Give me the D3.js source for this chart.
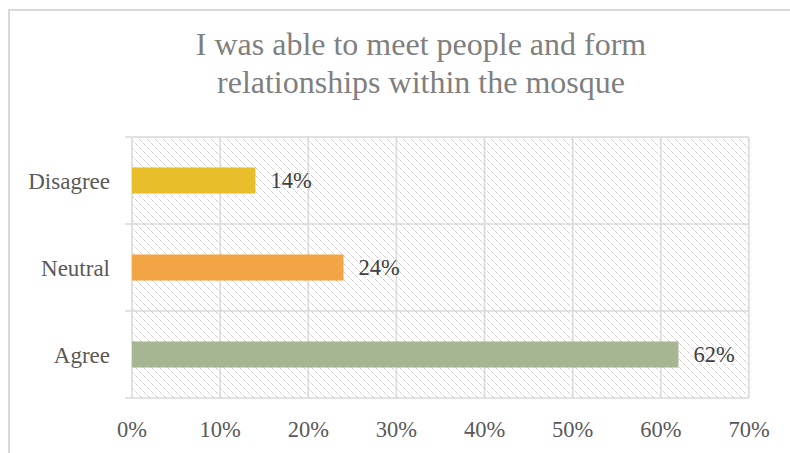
<!DOCTYPE html>
<html><head><meta charset="utf-8">
<script src="https://cdn.jsdelivr.net/npm/d3@7"></script>
<style>body{margin:0;background:#fff}svg{display:block}</style>
</head><body>
<script>
const categories = ["Disagree", "Neutral", "Agree"];
const values = [14, 24, 62];
const colors = ["#e8be2a", "#f3a546", "#a6b592"];
const xTicks = [0, 10, 20, 30, 40, 50, 60, 70];
const titleLines = ["I was able to meet people and form", "relationships within the mosque"];

const W = 790, H = 453;
const m = {left: 132, right: 41, top: 137, bottom: 55};
const FONT = "Liberation Serif, Times New Roman, serif";
const svg = d3.select("body").append("svg").attr("width", W).attr("height", H);

const defs = svg.append("defs");
const pat = defs.append("pattern").attr("id", "hatch").attr("patternUnits", "userSpaceOnUse")
  .attr("width", 8).attr("height", 8);
pat.append("rect").attr("width", 8).attr("height", 8).attr("fill", "#fff");
[0,1,3,4,5,7].forEach(i => pat.append("rect").attr("x", i).attr("y", i).attr("width", 1).attr("height", 1).attr("fill", "#cfcfcf"));

// outer border
svg.append("path").attr("d", `M9,${H} V10 H${W}`).attr("fill", "none").attr("stroke", "#d9d9d9").attr("stroke-width", 2);

const x = d3.scaleLinear().domain([0, 70]).range([m.left, W - m.right]);
const y = d3.scaleBand().domain(categories).range([m.top, H - m.bottom]).paddingInner(0.7).paddingOuter(0.35);
const yb = d3.scaleBand().domain(categories).range([m.top, H - m.bottom]);

svg.append("rect").attr("x", x(0)).attr("y", m.top).attr("width", x(70) - x(0)).attr("height", H - m.bottom - m.top).attr("fill", "url(#hatch)");

// vertical gridlines
svg.append("g").selectAll("line").data(xTicks).join("line")
  .attr("x1", d => x(d)).attr("x2", d => x(d)).attr("y1", m.top).attr("y2", H - m.bottom)
  .attr("stroke", "#d9d9d9").attr("stroke-width", 1.5);
// horizontal lines at category boundaries
const bounds = categories.map(c => yb(c)).concat([H - m.bottom]);
svg.append("g").selectAll("line").data(bounds).join("line")
  .attr("x1", x(0) - 7).attr("x2", x(70)).attr("y1", d => d).attr("y2", d => d)
  .attr("stroke", "#d9d9d9").attr("stroke-width", 1.5);

// title
svg.append("text").attr("text-anchor", "middle")
  .attr("font-family", FONT).attr("font-size", 32).attr("fill", "#7f7f7f")
  .selectAll("tspan").data(titleLines).join("tspan").attr("x", 421).attr("y", (d, i) => 55 + i * 38).text(d => d);

// bars
svg.append("g").selectAll("rect").data(values).join("rect")
  .attr("x", x(0)).attr("y", (d, i) => y(categories[i])).attr("width", d => x(d) - x(0))
  .attr("height", y.bandwidth()).attr("fill", (d, i) => colors[i]);

// value labels
svg.append("g").selectAll("text").data(values).join("text")
  .attr("x", d => x(d) + 15).attr("y", (d, i) => y(categories[i]) + y.bandwidth() / 2).attr("dy", "0.35em")
  .attr("font-family", FONT).attr("font-size", 22.5).attr("fill", "#404040")
  .text(d => d + "%");

// category labels
svg.append("g").selectAll("text").data(categories).join("text")
  .attr("x", 110).attr("y", d => yb(d) + yb.bandwidth() / 2).attr("dy", "0.35em").attr("text-anchor", "end")
  .attr("font-family", FONT).attr("font-size", 23).attr("fill", "#595959")
  .text(d => d);

// x tick labels
svg.append("g").selectAll("text").data(xTicks).join("text")
  .attr("x", d => x(d)).attr("y", 437).attr("text-anchor", "middle")
  .attr("font-family", FONT).attr("font-size", 22.5).attr("fill", "#595959")
  .text(d => d + "%");
</script>
</body></html>
